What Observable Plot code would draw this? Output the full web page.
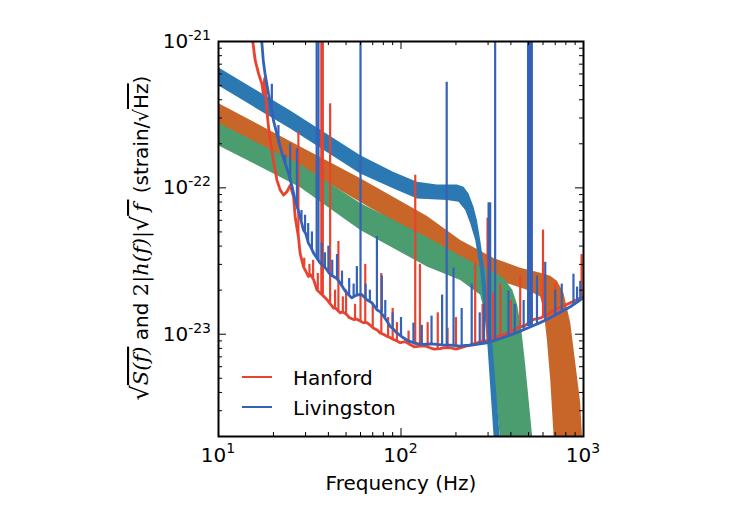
<!DOCTYPE html>
<html><head><meta charset="utf-8">
<script src="https://cdn.jsdelivr.net/npm/d3@7"></script>
<script src="https://cdn.jsdelivr.net/npm/@observablehq/plot@0.6"></script>
<style>body{margin:0;background:#fff;font-family:"DejaVu Sans",sans-serif}</style>
</head><body><div id="chart"></div>
<script>
// ---------- axes ticks ----------
const xMajor = [10, 100, 1000];
const xMinor = [20,30,40,50,60,70,80,90,200,300,400,500,600,700,800,900];
const yMajor = [1e-23, 1e-22, 1e-21];
const yMinor = [2e-24,3e-24,4e-24,5e-24,6e-24,7e-24,8e-24,9e-24,2e-23,3e-23,4e-23,5e-23,6e-23,7e-23,8e-23,9e-23,2e-22,3e-22,4e-22,5e-22,6e-22,7e-22,8e-22,9e-22];
const xTickExp = ["1", "2", "3"];
const yTickExp = ["-23", "-22", "-21"];

// ---------- signal bands (upper edge, lower edge) ----------
const blueUpF = [10, 24.7, 59.8, 91.0, 122.2, 157.3, 202.5, 220, 234.4, 249.6, 260.5, 271.6, 286.4, 317.3, 346.6, 363];
const blueUpV = [6.65e-22, 3.38e-22, 1.67e-22, 1.285e-22, 1.099e-22, 1.055e-22, 1.055e-22, 1.016e-22, 9.16e-23, 7.43e-23, 6.03e-23, 4.41e-23, 2.75e-23, 8.29e-24, 2.06e-24, 8.8e-25];
const blueLoF = [10, 24.7, 59.8, 91.0, 122.2, 178.4, 206.6, 224.8, 239.4, 255, 271.6, 297.8, 321.2, 332.3];
const blueLoV = [4.995e-22, 2.54e-22, 1.253e-22, 9.91e-23, 8.47e-23, 8.25e-23, 8.03e-23, 7.05e-23, 5.73e-23, 4.41e-23, 2.75e-23, 8.29e-24, 2.06e-24, 8.8e-25];

const orangeUpF = [10, 28.0, 59.8, 138.7, 211, 321, 450, 579, 657, 715, 777, 846, 901, 959, 980, 1022];
const orangeUpV = [3.79e-22, 1.92e-22, 1.164e-22, 6.42e-23, 4.41e-23, 3.32e-23, 2.84e-23, 2.63e-23, 2.51e-23, 2.32e-23, 1.91e-23, 1.196e-23, 6.39e-24, 3.41e-24, 2.06e-24, 8.8e-25];
const orangeLoF = [10, 28.0, 59.8, 138.7, 211, 321, 490, 579, 604, 630, 657, 685, 700];
const orangeLoV = [2.74e-22, 1.405e-22, 7.99e-23, 4.41e-23, 3.12e-23, 2.39e-23, 2.01e-23, 1.81e-23, 1.47e-23, 9.2e-24, 4.92e-24, 2.06e-24, 8.8e-25];

const greenUpF = [10, 28.0, 59.8, 138.7, 211, 271.6, 350, 372, 407, 433, 456, 479, 522, 544];
const greenUpV = [2.77e-22, 1.45e-22, 7.87e-23, 4.62e-23, 3.43e-23, 2.93e-23, 2.51e-23, 2.35e-23, 2.01e-23, 1.59e-23, 1.076e-23, 6.22e-24, 2.06e-24, 8.8e-25];
const greenLoF = [10, 28.0, 59.8, 138.7, 211, 271.6, 296, 308, 328, 347, 358];
const greenLoV = [1.95e-22, 1.011e-22, 5.16e-23, 2.90e-23, 2.35e-23, 1.86e-23, 1.20e-23, 7.87e-24, 4.2e-24, 2.06e-24, 8.8e-25];

// ---------- detector noise (ASD) ----------
const hanfordF = [14.9,15.9,16.6,17.3,17.6,17.9,18.4,18.8,19.2,20.0,20.9,21.8,22.7,23.7,24.7,25.8,26.3,27.4,28.0,29.2,31.1,32.0,33.2,34.6,36.9,38.0,39.3,42.7,44.0,46.4,48.0,50.5,52.0,54.9,57.0,59.8,62.0,65.0,68.0,70.7,74.0,76.9,80.0,83.7,87.0,91.0,95.0,99.0,105,112,118,127,135,144,152,164,172,186,200,225,250,283,310,350,390,432,480,530,590,657,720,804,900,1000];
const hanfordV = [1.38e-21,7.39e-22,6.0e-22,5.13e-22,4.39e-22,5.58e-22,3.38e-22,2.6e-22,2.11e-22,1.54e-22,1.13e-22,9.65e-23,8.92e-23,9.39e-23,1.04e-22,8.69e-23,6.35e-23,4.64e-23,3.58e-23,2.9e-23,2.48e-23,2.55e-23,2.36e-23,2.01e-23,1.86e-23,1.8e-23,1.72e-23,1.51e-23,1.5e-23,1.4e-23,1.42e-23,1.36e-23,1.3e-23,1.26e-23,1.27e-23,1.23e-23,1.2e-23,1.2e-23,1.15e-23,1.1e-23,1.07e-23,1.02e-23,1.0e-23,9.69e-24,9.5e-24,9.2e-24,9.0e-24,8.74e-24,8.9e-24,8.51e-24,8.2e-24,8.29e-24,8.3e-24,8.08e-24,7.9e-24,7.96e-24,8.1e-24,8.08e-24,7.9e-24,8.25e-24,8.6e-24,8.96e-24,9.1e-24,9.8e-24,1.02e-23,1.1e-23,1.15e-23,1.26e-23,1.3e-23,1.4e-23,1.5e-23,1.59e-23,1.7e-23,1.81e-23];
const livingstonF = [16.9,17.6,18.0,18.8,19.6,20.0,20.9,21.8,22.3,23.2,24.2,25.3,26.3,28.0,29.2,30.0,31.1,32.0,33.2,36.1,37.5,39.3,41.0,42.7,44.5,46.4,48.5,50.5,53.8,57.3,61.1,65.0,69.3,73.8,77.0,80.2,84.0,87.3,91.0,95.0,103,110,117,125,133,145,157,170,186,200,211,225,239,265,296,320,350,400,450,510,579,630,685,760,846,920,1000];
const livingstonV = [1.38e-21,7.39e-22,6.0e-22,4.39e-22,3.38e-22,2.89e-22,2.34e-22,1.9e-22,1.71e-22,1.47e-22,1.25e-22,1.02e-22,8.25e-23,6.35e-23,5.15e-23,4.9e-23,4.19e-23,3.95e-23,3.58e-23,3.06e-23,2.95e-23,2.75e-23,2.55e-23,2.48e-23,2.4e-23,2.24e-23,2.05e-23,1.91e-23,1.77e-23,1.86e-23,1.86e-23,1.72e-23,1.64e-23,1.47e-23,1.42e-23,1.33e-23,1.22e-23,1.13e-23,1.08e-23,1.02e-23,9.45e-24,9.0e-24,8.74e-24,8.6e-24,8.51e-24,8.6e-24,8.51e-24,8.45e-24,8.42e-24,8.35e-24,8.29e-24,8.4e-24,8.38e-24,8.55e-24,8.74e-24,9.0e-24,9.35e-24,9.9e-24,1.05e-23,1.12e-23,1.2e-23,1.26e-23,1.33e-23,1.43e-23,1.54e-23,1.65e-23,1.78e-23];

// ---------- narrow spectral lines ----------
const hSpikeF    = [27.4, 29.5, 31.5, 33, 35, 36.6, 37.3, 40.9, 43.5, 45.4, 48, 50, 56, 60, 63.7, 70, 78, 85, 90, 95, 110, 119.7, 127, 140, 159, 180, 200, 255, 280, 298, 320, 350, 400, 450, 520, 600, 700, 976];
const hSpikeBase = [4.6e-23, 2.9e-23, 2.45e-23, 2.4e-23, 2.0e-23, 1.9e-23, 1.85e-23, 1.65e-23, 1.5e-23, 1.45e-23, 1.42e-23, 1.36e-23, 1.26e-23, 1.23e-23, 1.2e-23, 1.12e-23, 1.0e-23, 9.6e-24, 9.2e-24, 9.0e-24, 8.5e-24, 8.4e-24, 8.3e-24, 8.1e-24, 8.0e-24, 8.0e-24, 8.1e-24, 8.6e-24, 8.9e-24, 9.1e-24, 9.4e-24, 9.8e-24, 1.05e-23, 1.12e-23, 1.23e-23, 1.3e-23, 1.45e-23, 1.78e-23];
const hSpikePeak = [2.4e-22, 3.3e-23, 3.0e-23, 3.2e-23, 2.6e-23, 3e-21, 3e-21, 3.75e-22, 2.0e-23, 4.3e-23, 1.8e-23, 2.0e-23, 1.6e-23, 1.9e-23, 3.0e-23, 1.6e-23, 2.6e-23, 1.3e-23, 1.5e-23, 1.2e-23, 1.05e-23, 1.22e-22, 3.0e-23, 1.2e-23, 1.4e-23, 1.1e-23, 1.3e-23, 3.06e-23, 1.6e-23, 6.2e-23, 1.9e-23, 2.2e-23, 1.7e-23, 2.5e-23, 1.7e-23, 5.15e-23, 2.2e-23, 3.5e-23];

const lSpikeF    = [19.6, 21.3, 23.2, 24.7, 26.9, 28.5, 29.8, 31, 32.5, 34.5, 35.3, 36.8, 38.3, 40, 42, 44.6, 47.5, 52, 55, 57.3, 60, 64, 67.5, 73.8, 78.5, 82, 90, 100, 117, 130, 147, 168, 178, 194, 215, 244, 270, 285, 302, 308, 328, 388, 420, 470, 497, 505, 513, 521, 556, 617, 700, 760, 881, 922, 960];
const lSpikeBase = [3.4e-22, 2.0e-22, 1.47e-22, 1.12e-22, 7.5e-23, 6.0e-23, 5.0e-23, 4.3e-23, 3.8e-23, 3.3e-23, 3.2e-23, 3.0e-23, 2.85e-23, 2.7e-23, 2.5e-23, 2.4e-23, 2.1e-23, 1.85e-23, 1.8e-23, 1.8e-23, 1.86e-23, 1.75e-23, 1.67e-23, 1.5e-23, 1.4e-23, 1.3e-23, 1.1e-23, 9.7e-24, 8.7e-24, 8.5e-24, 8.5e-24, 8.5e-24, 8.45e-24, 8.4e-24, 8.3e-24, 8.4e-24, 8.55e-24, 8.65e-24, 8.8e-24, 8.9e-24, 9.1e-24, 9.8e-24, 1.02e-23, 1.08e-23, 1.13e-23, 1.13e-23, 1.14e-23, 1.14e-23, 1.16e-23, 1.24e-23, 1.34e-23, 1.42e-23, 1.6e-23, 1.65e-23, 1.72e-23];
const lSpikePeak = [5.1e-22, 2.67e-22, 1.67e-22, 2.0e-22, 1.85e-22, 7.0e-23, 6.5e-23, 5.7e-23, 5.0e-23, 3e-21, 3e-21, 4.2e-23, 3.6e-23, 4.0e-23, 3.2e-23, 3.5e-23, 2.7e-23, 2.4e-23, 2.2e-23, 2.9e-23, 3e-21, 2.2e-23, 2.0e-23, 4.65e-23, 2.5e-23, 1.7e-23, 1.4e-23, 1.3e-23, 1.19e-23, 1.15e-23, 1.33e-23, 1.85e-23, 5.26e-22, 2.83e-23, 1.5e-23, 2.2e-23, 1.4e-23, 1.6e-23, 7.9e-23, 7.9e-23, 3e-21, 1.97e-23, 1.6e-23, 1.7e-23, 3e-21, 3e-21, 3e-21, 3e-21, 2.5e-23, 3.1e-23, 2.0e-23, 2.2e-23, 2.57e-23, 2.1e-23, 2.3e-23];

const legendLabels = ["Hanford", "Livingston"];

// ---------- colours ----------
const cHanford = "#e8432f", cLiving = "#3462b8";
const cBlue = "#2b78b2", cOrange = "#c8662a", cGreen = "#4b9c6e";

// ---------- build tables ----------
const pts = (F, V) => F.map((f, i) => ({f, v: V[i]}));
const poly = (uf, uv, lf, lv) => [...pts(uf, uv), ...pts(lf, lv).reverse()];
const spikes = (F, B, P) => F.map((f, i) => ({f, base: B[i], peak: P[i]}));

const W = 741, H = 524;
const mT = 41, mR = 158, mB = 88, mL = 218;
const iw = W - mL - mR, ih = H - mT - mB;
const font = "DejaVu Sans";

const chart = Plot.plot({
  width: W, height: H,
  marginTop: mT, marginRight: mR, marginBottom: mB, marginLeft: mL,
  style: {fontFamily: font, background: "#fff", overflow: "visible"},
  x: {type: "log", domain: [10, 1000], axis: null},
  y: {type: "log", domain: [2e-24, 1e-21], axis: null},
  marks: [
    Plot.line(poly(orangeUpF, orangeUpV, orangeLoF, orangeLoV), {x: "f", y: "v", fill: cOrange, stroke: "none", clip: true}),
    Plot.line(poly(greenUpF, greenUpV, greenLoF, greenLoV), {x: "f", y: "v", fill: cGreen, stroke: "none", clip: true}),
    Plot.line(poly(blueUpF, blueUpV, blueLoF, blueLoV), {x: "f", y: "v", fill: cBlue, stroke: "none", clip: true}),
    Plot.ruleX(spikes(hSpikeF, hSpikeBase, hSpikePeak), {x: "f", y1: "base", y2: "peak", stroke: cHanford, strokeWidth: 2.2, clip: true}),
    Plot.line(pts(hanfordF, hanfordV), {x: "f", y: "v", stroke: cHanford, strokeWidth: 2.8, clip: true}),
    Plot.ruleX(spikes(lSpikeF, lSpikeBase, lSpikePeak), {x: "f", y1: "base", y2: "peak", stroke: cLiving, strokeWidth: 2.2, clip: true}),
    Plot.line(pts(livingstonF, livingstonV), {x: "f", y: "v", stroke: cLiving, strokeWidth: 2.8, clip: true}),
    Plot.frame({stroke: "black", strokeWidth: 2}),
    // inward ticks, all four sides
    Plot.tickX(xMajor, {x: d => d, insetTop: ih - 8, stroke: "black", strokeWidth: 1}),
    Plot.tickX(xMajor, {x: d => d, insetBottom: ih - 8, stroke: "black", strokeWidth: 1}),
    Plot.tickX(xMinor, {x: d => d, insetTop: ih - 4, stroke: "black", strokeWidth: 1}),
    Plot.tickX(xMinor, {x: d => d, insetBottom: ih - 4, stroke: "black", strokeWidth: 1}),
    Plot.tickY(yMajor, {y: d => d, insetRight: iw - 8, stroke: "black", strokeWidth: 1}),
    Plot.tickY(yMajor, {y: d => d, insetLeft: iw - 8, stroke: "black", strokeWidth: 1}),
    Plot.tickY(yMinor, {y: d => d, insetRight: iw - 4, stroke: "black", strokeWidth: 1}),
    Plot.tickY(yMinor, {y: d => d, insetLeft: iw - 4, stroke: "black", strokeWidth: 1})
  ]
});
document.getElementById("chart").appendChild(chart);

const svg = d3.select(chart);
const sx = chart.scale("x"), sy = chart.scale("y");

// tick labels with superscripts
xMajor.forEach((d, i) => {
  const t = svg.append("text").attr("x", sx.apply(d)).attr("y", 462).attr("text-anchor", "middle")
    .attr("font-family", font).attr("font-size", 20).attr("fill", "black");
  t.append("tspan").text("10");
  t.append("tspan").attr("font-size", 14).attr("dy", -9).text(xTickExp[i]);
});
yMajor.forEach((d, i) => {
  const t = svg.append("text").attr("x", 211).attr("y", sy.apply(d) + 7).attr("text-anchor", "end")
    .attr("font-family", font).attr("font-size", 20).attr("fill", "black");
  t.append("tspan").text("10");
  t.append("tspan").attr("font-size", 14).attr("dy", -8).text(yTickExp[i]);
});

// x axis label
svg.append("text").attr("x", 401).attr("y", 490).attr("text-anchor", "middle")
  .attr("font-family", font).attr("font-size", 20).attr("fill", "black").text("Frequency (Hz)");

// y axis label with math
const yl = svg.append("text").attr("transform", "translate(148,238) rotate(-90)")
  .attr("text-anchor", "middle").attr("font-family", font).attr("font-size", 20).attr("fill", "black");
const serif = "DejaVu Serif";
yl.append("tspan").attr("font-size", 24).text("\u221a");
yl.append("tspan").attr("font-family", serif).attr("font-size", 21).attr("font-style", "italic").style("text-decoration", "overline").text("S(f)");
yl.append("tspan").text(" and ");
yl.append("tspan").attr("font-family", serif).attr("font-size", 21).text("2|");
yl.append("tspan").attr("font-family", serif).attr("font-size", 21).attr("font-style", "italic").text("h(f)");
yl.append("tspan").attr("font-family", serif).attr("font-size", 21).text("|");
yl.append("tspan").attr("font-size", 24).text("\u221a");
yl.append("tspan").attr("font-family", serif).attr("font-size", 21).attr("font-style", "italic").style("text-decoration", "overline").text("\u2009f\u2009");
yl.append("tspan").text(" (strain/\u221a");
yl.append("tspan").style("text-decoration", "overline").text("Hz");
yl.append("tspan").text(")");

// legend
const lg = svg.append("g").attr("text-anchor", "start");
[[cHanford, 377], [cLiving, 407]].forEach(([c, y], i) => {
  lg.append("line").attr("x1", 242).attr("x2", 272).attr("y1", y).attr("y2", y).attr("stroke", c).attr("stroke-width", 2);
  lg.append("text").attr("x", 293).attr("y", y + 7.5).attr("text-anchor", "start").attr("font-family", font).attr("font-size", 20).attr("fill", "black").text(legendLabels[i]);
});
</script></body></html>
